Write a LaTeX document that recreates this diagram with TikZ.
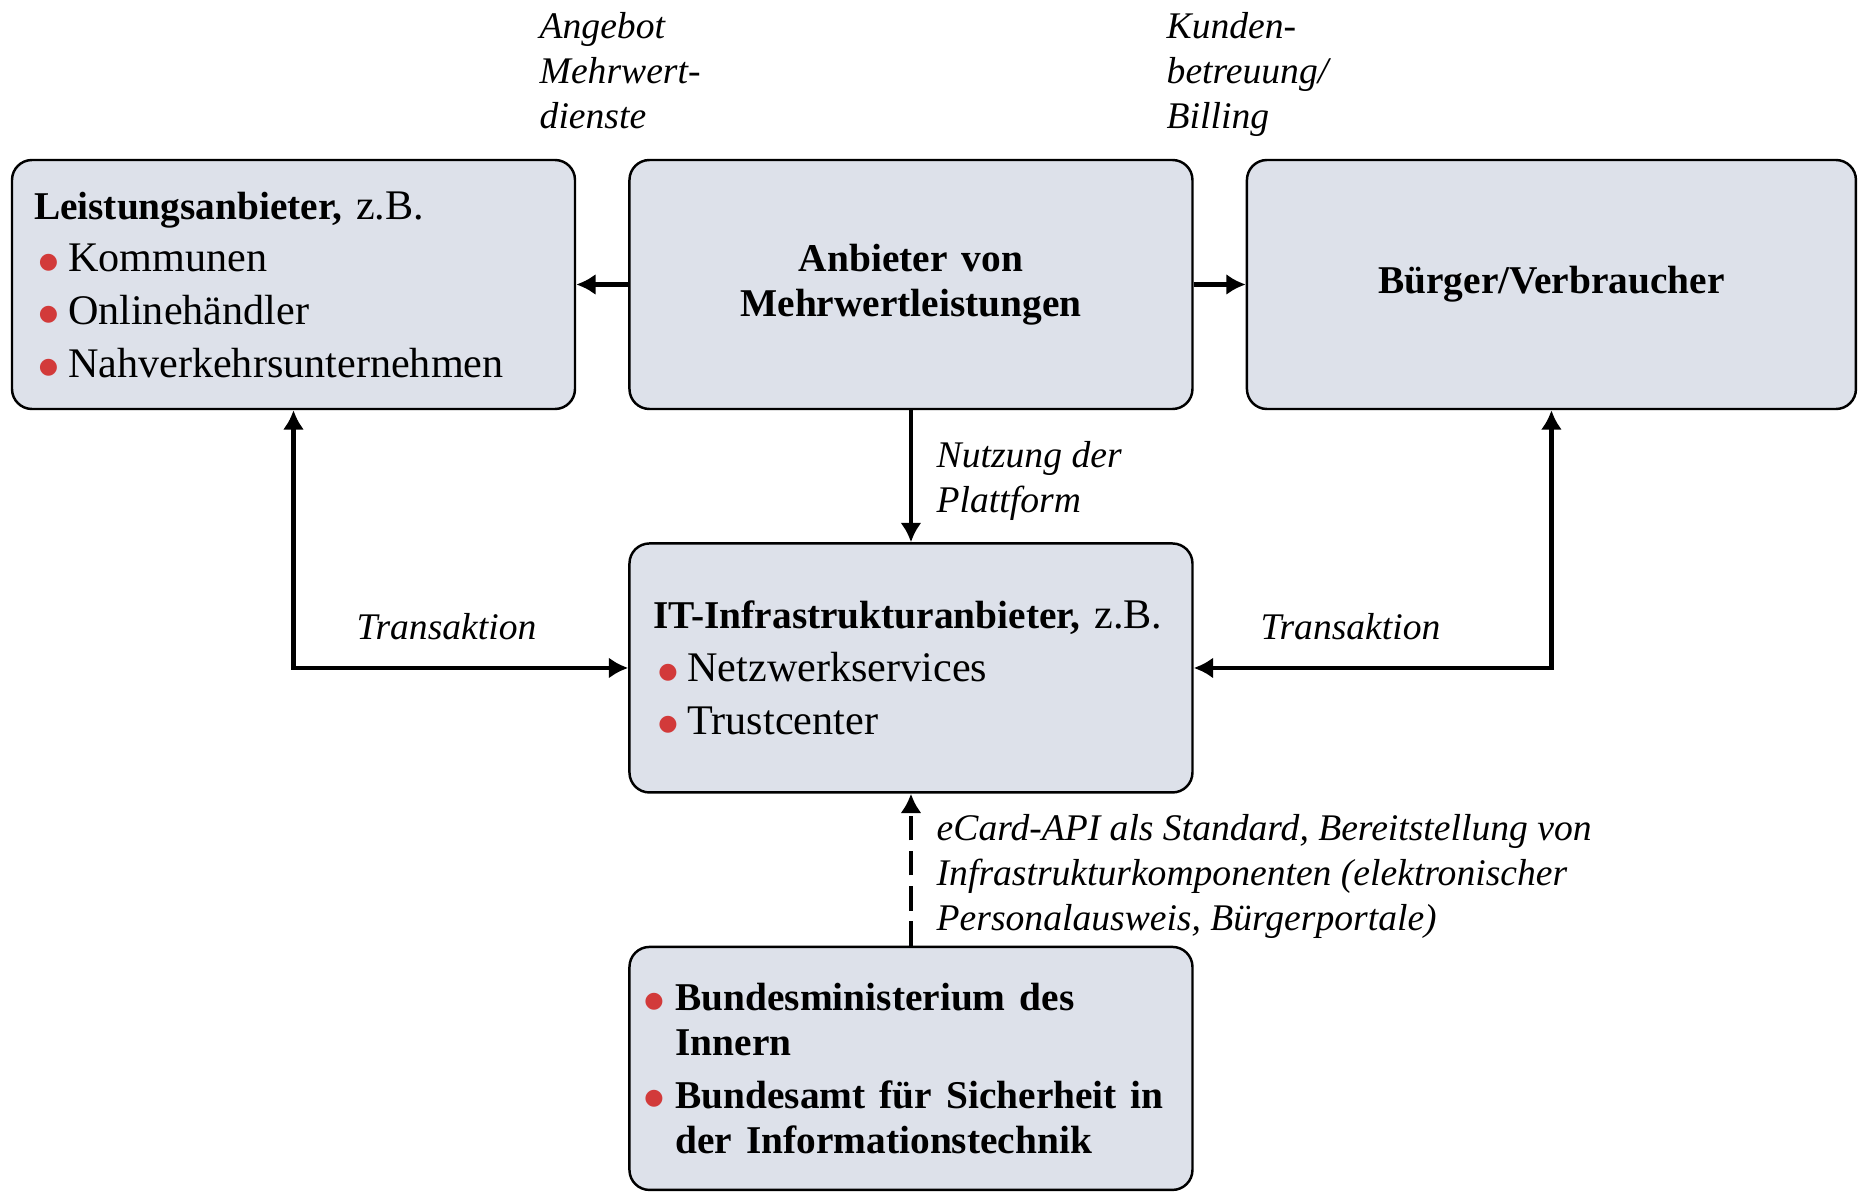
\documentclass[tikz,border=0pt]{standalone}
\usepackage{fontspec}
\setmainfont{Liberation Serif}
\newfontfamily\symfont{DejaVu Sans}
\usepackage{xcolor}
\usetikzlibrary{arrows.meta,positioning}
\definecolor{boxfill}{RGB}{221,225,234}
\definecolor{bulletred}{RGB}{210,58,58}
\newcommand{\reddot}{\raisebox{1pt}{\textcolor{bulletred}{\symfont\fontsize{6.3}{7}\selectfont ●}}}
\newcommand{\bul}{\makebox[0.34cm][l]{\hspace*{0.05cm}\reddot}}
\newcommand{\bulb}{\makebox[0.31cm][l]{\reddot}}
\newcommand{\nobulb}{\hspace*{0.31cm}}
\newcommand{\hd}[1]{{\fontsize{11.2}{12.8}\selectfont\bfseries #1}}
\tikzset{
	box/.style={draw, line width=0.7pt, rounded corners=0.2cm, fill=boxfill, minimum width=5.63cm, minimum height=2.49cm, inner xsep=0.22cm, text width=5.19cm, align=left, font=\fontsize{12}{12.8}\selectfont},
	lbl/.style={font=\fontsize{10.7}{12.8}\selectfont\itshape, align=left, inner sep=0pt, anchor=north west},
	con/.style={line width=1.4pt, -{Latex[length=5.5pt,width=6pt]}},
	twoway/.style={line width=1.4pt, {Latex[length=5.5pt,width=6pt]}-{Latex[length=5.5pt,width=6pt]}}
}
\begin{document}
\begin{tikzpicture}
	\useasboundingbox (0,0) rectangle (18.6,-11.93);
	\node[box] (leist) at (2.935,-2.845) {\hd{Leistungsanbieter,} z.B.\\[2.2pt] \bul Kommunen\\[2.2pt] \bul Onlinehändler\\[2.2pt] \bul Nahverkehrsunternehmen};
	\node[box, align=center, right=0.52cm of leist] (mehrwert) {\hd{Anbieter von}\\\hd{Mehrwertleistungen}};
	\node[box, align=center, minimum width=6.09cm, text width=5.65cm, right=0.52cm of mehrwert] (buerger) {\hd{Bürger/Verbraucher}};
	\node[box, inner xsep=0.24cm, text width=5.15cm, below=1.32cm of mehrwert] (infra) {\hd{IT-Infrastrukturanbieter,} z.B.\\[2.2pt] \bul Netzwerkservices\\[2.2pt] \bul Trustcenter};
	\node[box, minimum height=2.43cm, inner xsep=0.15cm, text width=5.33cm, below=1.52cm of infra] (bund) {\bulb\hd{Bundesministerium des}\\\nobulb\hd{Innern}\\[2.2pt] \bulb\hd{Bundesamt für Sicherheit in}\\\nobulb\hd{der Informationstechnik}};
	\node[lbl] (angebot) at (5.39,-0.12) {Angebot\\Mehrwert-\\dienste};
	\node[lbl] (kunden) at (11.66,-0.12) {Kunden-\\betreuung/\\Billing};
	\node[lbl] (nutzung) at (9.36,-4.41) {Nutzung der\\Plattform};
	\node[lbl] (trans1) at (3.56,-6.13) {Transaktion};
	\node[lbl] (trans2) at (12.60,-6.13) {Transaktion};
	\node[lbl] (ecard) at (9.36,-8.14) {eCard-API als Standard, Bereitstellung von\\Infrastrukturkomponenten (elektronischer\\Personalausweis, Bürgerportale)};
	\draw[con] (mehrwert) -- (leist);
	\draw[con] (mehrwert) -- (buerger);
	\draw[con] (mehrwert) -- (infra);
	\draw[twoway] (leist) |- (infra);
	\draw[twoway] (buerger) |- (infra);
	\draw[con, dash pattern=on 7pt off 3pt] (bund) -- (infra);
\end{tikzpicture}
\end{document}
